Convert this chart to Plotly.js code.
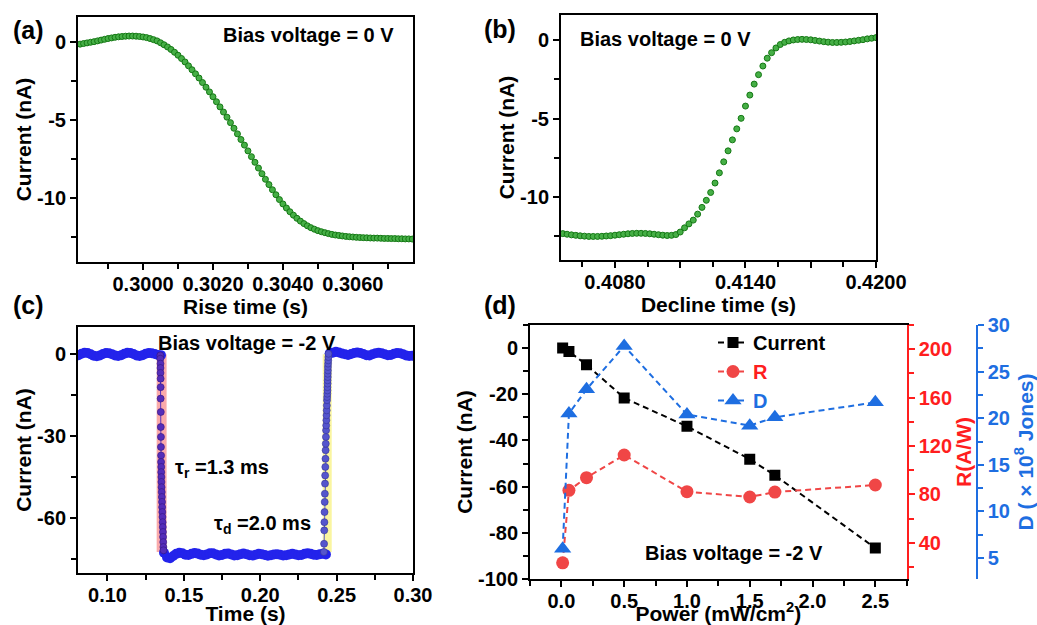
<!DOCTYPE html>
<html>
<head>
<meta charset="utf-8">
<script src="https://cdn.plot.ly/plotly-3.0.1.min.js"></script>
<style>
html,body{margin:0;padding:0;background:#fff;}
#wrap{position:relative;width:1037px;height:625px;}
.panel{position:absolute;left:0;top:0;width:1037px;height:625px;}
</style>
</head>
<body>
<div id="wrap">
  <div id="pa" class="panel"></div>
  <div id="pb" class="panel"></div>
  <div id="pc" class="panel"></div>
  <div id="pd" class="panel"></div>
</div>
<script>
// ---------- DATA ----------
// (a) rise edge, bias 0 V: samples start at riseT0, spaced riseDT (s)
const riseT0 = 0.2982, riseDT = 0.0001;
const riseCurrent = [-0.14,-0.10,-0.06,-0.02,0.02,0.07,0.12,0.17,0.22,0.26,0.30,0.33,0.35,0.37,0.38,0.38,0.37,0.35,0.32,0.28,
  0.22,0.15,0.07,-0.05,-0.18,-0.32,-0.48,-0.66,-0.85,-1.06,-1.28,-1.53,-1.78,-2.04,-2.31,-2.60,-2.90,-3.20,-3.51,-3.83,
  -4.16,-4.49,-4.82,-5.17,-5.53,-5.89,-6.25,-6.61,-6.98,-7.35,-7.71,-8.08,-8.44,-8.80,-9.14,-9.47,-9.79,-10.10,-10.38,-10.64,
  -10.88,-11.10,-11.30,-11.48,-11.64,-11.78,-11.90,-12.00,-12.09,-12.16,-12.22,-12.28,-12.33,-12.37,-12.40,-12.43,-12.46,-12.48,-12.50,-12.52,
  -12.53,-12.54,-12.55,-12.56,-12.57,-12.57,-12.58,-12.59,-12.59,-12.60,-12.60,-12.61,-12.61,-12.62,-12.62,-12.63];

// (b) decline edge, bias 0 V
const declineT0 = 0.4056, declineDT = 0.0002;
const declineCurrent = [-12.32,-12.36,-12.40,-12.43,-12.46,-12.48,-12.50,-12.50,-12.50,-12.49,-12.47,-12.45,-12.42,-12.39,-12.36,-12.33,-12.31,-12.30,-12.30,-12.31,
  -12.33,-12.36,-12.39,-12.42,-12.44,-12.43,-12.38,-12.22,-11.95,-11.70,-11.46,-11.08,-10.65,-10.20,-9.70,-9.10,-8.45,-7.75,-7.05,-6.35,
  -5.65,-4.98,-4.20,-3.50,-2.80,-2.20,-1.65,-1.15,-0.80,-0.50,-0.28,-0.14,-0.05,0.01,0.04,0.05,0.04,0.02,-0.02,-0.06,
  -0.10,-0.13,-0.15,-0.15,-0.14,-0.12,-0.09,-0.05,-0.01,0.03,0.08,0.12,0.16];

// (c) one on/off cycle, bias -2 V
const cTopLeftT0 = 0.081, cStepDT = 0.002;
const cTopLeft = [-0.3,0.2,0.6,0.5,0.0,-0.5,-0.7,-0.4,0.1,0.5,0.4,0.0,-0.4,-0.6,-0.3,0.2,0.6,0.5,0.1,-0.4,-0.6,-0.3,0.2,0.5,0.4,0.1,-0.2,-0.3];
const dropTime = [0.1346,0.1346,0.1347,0.1347,0.1347,0.1348,0.1348,0.1348,0.1349,0.1349,0.1350,0.1350,0.1351,0.1351,0.1352,0.1352,
  0.1353,0.1353,0.1354,0.1355,0.1356,0.1357,0.1358,0.1359,0.1360,0.1361,0.1362,0.1363,0.1364,0.1365,0.1366,0.1367];
const dropCurrent = [-0.4,-1.6,-3.4,-5.0,-6.8,-8.9,-12.0,-16.2,-21.1,-26.6,-30.2,-33.9,-37.0,-39.4,-41.2,-43.1,
  -44.9,-46.7,-48.6,-50.4,-52.2,-54.0,-55.9,-57.7,-59.5,-61.4,-63.2,-65.0,-66.8,-68.7,-70.5,-71.7];
const cBottomT0 = 0.137;
const cBottom = [-72.6,-74.3,-74.6,-73.8,-73.0,-72.6,-72.8,-73.3,-73.4,-73.0,-72.7,-72.9,-73.3,-73.5,-73.2,-72.8,-72.8,-73.2,-73.6,-73.4,
  -73.0,-72.9,-73.2,-73.6,-73.5,-73.1,-72.9,-73.1,-73.5,-73.6,-73.3,-73.0,-73.1,-73.4,-73.7,-73.5,-73.2,-73.1,-73.3,-73.6,
  -73.5,-73.2,-73.0,-73.2,-73.5,-73.4,-73.0,-72.8,-73.0,-73.3,-73.4,-73.1,-73.0,-73.2];
const recTime = [0.2417,0.2418,0.2419,0.2420,0.2421,0.2422,0.2423,0.2424,0.2425,0.2426,0.2427,0.2428,0.2429,0.2430,0.2431,0.2432,
  0.2433,0.2434,0.2435,0.2436,0.2437,0.2438,0.2439,0.2440,0.2440,0.2441,0.2441,0.2442,0.2442,0.2443,0.2443,0.2444,0.2445,0.2446,0.2447];
const recCurrent = [-72.3,-69.3,-64.4,-61.4,-57.7,-54.0,-51.0,-47.3,-44.3,-41.2,-38.2,-35.1,-32.7,-30.2,-27.8,-26.0,
  -24.1,-22.3,-20.5,-18.7,-16.8,-15.6,-14.4,-13.2,-12.0,-10.7,-9.5,-8.3,-7.1,-5.9,-4.6,-3.4,-2.2,-1.0,0.2];
const cTopRightT0 = 0.2455;
const cTopRight = [0.4,0.6,0.9,0.7,0.3,0.0,-0.2,0.1,0.5,0.7,0.5,0.1,-0.3,-0.4,0.0,0.4,0.6,0.4,0.0,-0.3,-0.2,0.2,0.5,0.4,0.0,-0.4,-0.6,-0.5];
const riseBand = [0.1322, 0.1387], decayBand = [0.2409, 0.2468], bandLevels = [0, -72.3];

// (d) power dependence, bias -2 V
const power = [0.01, 0.06, 0.2, 0.5, 1.0, 1.5, 1.7, 2.5];
const currentD = [0, -1.5, -7.2, -21.6, -33.9, -48.1, -55.1, -86.6];
const responsivity = [23.4, 83.3, 93.8, 112.5, 82.2, 77.8, 81.9, 87.7];
const detectivity = [6.0, 20.5, 23.1, 27.75, 20.4, 19.2, 20.1, 21.7];

// tick values and labels
const aXTicks = [0.300, 0.302, 0.304, 0.306];
const abTickVals = [0, -5, -10], abTickText = ['0', '-5', '-10'];
const bTickVals = [0.408, 0.411, 0.414, 0.417, 0.420], bTickText = ['0.4080', ' ', '0.4140', ' ', '0.4200'];
const cXTicks = [0.10, 0.15, 0.20, 0.25, 0.30];
const cTickVals = [0, -30, -60], cTickText = ['0', '-30', '-60'];
const dXTicks = [0, 0.5, 1.0, 1.5, 2.0, 2.5];
const dTickVals = [0, -20, -40, -60, -80, -100], dTickText = ['0', '-20', '-40', '-60', '-80', '-100'];
const rTickVals = [40, 80, 120, 160, 200];
const detTickVals = [5, 10, 15, 20, 25, 30];

// ---------- STYLE ----------
const F = 'Liberation Sans, Arial, Helvetica, sans-serif';
const K = '#000000';
const RED = 'rgb(255,30,30)', BLUE = 'rgb(30,110,225)';
const W = 1037, H = 625;
const CLEAR = 'rgba(0,0,0,0)';
function fnt(size, color) { return {family: F, size: size, color: color || K, weight: 'bold'}; }
function ax(extra) {
  return Object.assign({
    showline: true, linewidth: 2, linecolor: K, mirror: true,
    ticks: 'outside', ticklen: 6, tickwidth: 2, tickcolor: K,
    showgrid: false, zeroline: false, tickfont: fnt(20)
  }, extra);
}
function minor(t0, dt, color) {
  return {tickmode: 'linear', tick0: t0, dtick: dt, ticks: 'outside', ticklen: 5, tickwidth: 2, tickcolor: color || K, showgrid: false};
}
// converts page pixels to the paper fractions of a panel with margins m
function conv(m) {
  return {X: v => (v - m.l) / (W - m.l - m.r), Y: v => 1 - (v - m.t) / (H - m.t - m.b)};
}
function note(c, x, y, text, size, anchor) {
  return {xref: 'paper', yref: 'paper', x: c.X(x), y: c.Y(y), xanchor: anchor || 'center', yanchor: 'middle', text: text, showarrow: false, font: fnt(size)};
}
function base(m) {
  return {width: W, height: H, autosize: false, margin: m, paper_bgcolor: CLEAR, plot_bgcolor: CLEAR, font: fnt(20), showlegend: false};
}
const cfg = {displayModeBar: false, staticPlot: true};

const greenMarker = {symbol: 'circle', size: 6, color: 'rgb(70,175,70)', line: {color: 'rgb(20,120,20)', width: 1}};
const blueMarker = {symbol: 'circle', size: 10, color: 'rgb(35,35,235)', line: {width: 0}};

// ----- (a) -----
const mA = {l: 78, r: W - 413, t: 17, b: H - 262};
const cA = conv(mA);
Plotly.newPlot('pa',
  [{type: 'scatter', mode: 'markers', x0: riseT0, dx: riseDT, y: riseCurrent, marker: greenMarker}],
  Object.assign(base(mA), {
    xaxis: ax({range: [0.29814, 0.30772], tickmode: 'array', tickvals: aXTicks, tickformat: '.4f', ticklabelstandoff: -3,
      minor: minor(0.299, 0.002), title: {text: 'Rise time (s)', font: fnt(21), standoff: 0}}),
    yaxis: ax({range: [-14.1, 1.6], tickmode: 'array', tickvals: abTickVals, ticktext: abTickText,
      minor: minor(-2.5, 5), title: {text: 'Current (nA)', font: fnt(21), standoff: 0}}),
    annotations: [note(cA, 11, 30, '(a)', 25, 'left'), note(cA, 308.5, 35, 'Bias voltage = 0 V', 20)]
  }), cfg);

// ----- (b) -----
const mB = {l: 561, r: W - 876, t: 15, b: H - 260};
const cB = conv(mB);
Plotly.newPlot('pb',
  [{type: 'scatter', mode: 'markers', x0: declineT0, dx: declineDT, y: declineCurrent, marker: greenMarker}],
  Object.assign(base(mB), {
    xaxis: ax({range: [0.40552, 0.4200], tickmode: 'array', tickvals: bTickVals, ticktext: bTickText, ticklabelstandoff: -3,
      minor: minor(0.4065, 0.003), title: {text: 'Decline time (s)', font: fnt(21), standoff: 0}}),
    yaxis: ax({range: [-14.0, 1.6], tickmode: 'array', tickvals: abTickVals, ticktext: abTickText,
      minor: minor(-2.5, 5), title: {text: 'Current (nA)', font: fnt(21), standoff: 0}}),
    annotations: [note(cB, 482, 29, '(b)', 25, 'left'), note(cB, 665.5, 39, 'Bias voltage = 0 V', 20)]
  }), cfg);

// ----- (c) -----
const mC = {l: 78, r: W - 413, t: 327, b: H - 573};
const cC = conv(mC);
Plotly.newPlot('pc',
  [
    {type: 'scatter', mode: 'markers', x0: cTopLeftT0, dx: cStepDT, y: cTopLeft, marker: blueMarker},
    {type: 'scatter', mode: 'markers', x0: cBottomT0, dx: cStepDT, y: cBottom, marker: blueMarker},
    {type: 'scatter', mode: 'markers', x0: cTopRightT0, dx: cStepDT, y: cTopRight, marker: blueMarker},
    {type: 'scatter', mode: 'lines+markers', x: dropTime, y: dropCurrent,
     line: {color: 'rgb(90,50,190)', width: 1}, marker: {size: 7, color: 'rgb(85,45,185)', line: {color: 'rgb(50,20,130)', width: 0.6}}},
    {type: 'scatter', mode: 'lines+markers', x: recTime, y: recCurrent,
     line: {color: 'rgb(90,90,200)', width: 1}, marker: {size: 7, color: 'rgb(85,85,205)', line: {color: 'rgb(50,50,150)', width: 0.6}}}
  ],
  Object.assign(base(mC), {
    xaxis: ax({range: [0.0807, 0.30], tickmode: 'array', tickvals: cXTicks, tickformat: '.2f', ticklabelstandoff: -3,
      minor: minor(0.125, 0.05), title: {text: 'Time (s)', font: fnt(21), standoff: 0}}),
    yaxis: ax({range: [-80, 10], tickmode: 'array', tickvals: cTickVals, ticktext: cTickText,
      minor: minor(-15, 30), title: {text: 'Current (nA)', font: fnt(21), standoff: 0}}),
    shapes: [
      {type: 'rect', xref: 'x', yref: 'y', x0: riseBand[0], x1: riseBand[1], y0: bandLevels[1], y1: bandLevels[0],
       fillcolor: 'rgb(250,170,170)', line: {width: 0}, layer: 'below'},
      {type: 'rect', xref: 'x', yref: 'y', x0: decayBand[0], x1: decayBand[1], y0: bandLevels[1], y1: bandLevels[0],
       fillcolor: 'rgb(250,245,160)', line: {width: 0}, layer: 'below'}
    ],
    annotations: [
      note(cC, 11, 305, '(c)', 25, 'left'),
      note(cC, 246.5, 343, 'Bias voltage = -2 V', 20),
      note(cC, 173, 468, 'τ<sub>r</sub> =1.3 ms', 20, 'left'),
      note(cC, 212, 524, 'τ<sub>d</sub> =2.0 ms', 20, 'left')
    ]
  }), cfg);

// ----- (d) -----
const mD = {l: 530, r: W - 1000, t: 325, b: H - 579.3};
const cD = conv(mD);
Plotly.newPlot('pd',
  [
    {type: 'scatter', mode: 'lines+markers', name: 'Current', x: power, y: currentD, xaxis: 'x', yaxis: 'y',
     line: {color: K, width: 2, dash: '6px,4px'}, marker: {symbol: 'square', size: 11, color: K}},
    {type: 'scatter', mode: 'lines+markers', name: '<span style="color:rgb(255,30,30)">R</span>', x: power, y: responsivity, xaxis: 'x', yaxis: 'y2',
     line: {color: 'rgb(240,70,70)', width: 2, dash: '6px,4px'}, marker: {symbol: 'circle', size: 13, color: 'rgb(240,70,70)'}},
    {type: 'scatter', mode: 'lines+markers', name: '<span style="color:rgb(30,110,225)">D</span>', x: power, y: detectivity, xaxis: 'x', yaxis: 'y3',
     line: {color: BLUE, width: 2, dash: '6px,4px'}, marker: {symbol: 'triangle-up', size: 15, color: BLUE}}
  ],
  Object.assign(base(mD), {
    showlegend: true,
    legend: {x: cD.X(713), y: cD.Y(323), xanchor: 'left', yanchor: 'top', bgcolor: CLEAR, font: fnt(20), itemwidth: 30, tracegroupgap: 0},
    xaxis: ax({domain: [0, cD.X(906.7)], range: [-0.25, 2.75], tickmode: 'array', tickvals: dXTicks, tickformat: '.1f', ticklabelstandoff: -3,
      minor: minor(0.25, 0.5), title: {text: 'Power (mW/cm<sup>2</sup>)', font: fnt(21), standoff: 8}}),
    yaxis: ax({range: [-100, 10], mirror: false, tickmode: 'array', tickvals: dTickVals, ticktext: dTickText,
      minor: minor(-10, 20), title: {text: 'Current (nA)', font: fnt(21), standoff: 0}}),
    yaxis2: ax({overlaying: 'y', anchor: 'x', side: 'right', range: [10, 220], mirror: false, linecolor: RED, tickcolor: RED,
      tickfont: fnt(20, RED), tickmode: 'array', tickvals: rTickVals, minor: minor(20, 40, RED),
      title: {text: 'R(A/W)', font: fnt(21, RED), standoff: 5}}),
    yaxis3: ax({overlaying: 'y', anchor: 'free', position: cD.X(976.7), side: 'right', range: [2.75, 30], mirror: false, linecolor: BLUE, tickcolor: BLUE,
      tickfont: fnt(20, BLUE), tickmode: 'array', tickvals: detTickVals, minor: minor(7.5, 5, BLUE),
      title: {text: 'D ( × 10<sup>8</sup> Jones)', font: fnt(21, BLUE), standoff: 10}}),
    annotations: [note(cD, 482, 305, '(d)', 25, 'left'), note(cD, 734, 553, 'Bias voltage = -2 V', 20)]
  }), cfg);
</script>
</body>
</html>
